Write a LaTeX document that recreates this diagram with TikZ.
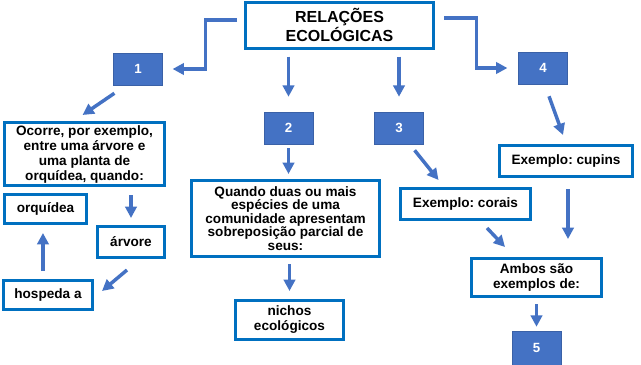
\documentclass[tikz,border=0pt]{standalone}
\usepackage{fontspec}
\setmainfont{Liberation Sans}
\usetikzlibrary{arrows.meta}
\definecolor{obox}{HTML}{0070C0}
\definecolor{ablue}{HTML}{4472C4}
\frenchspacing
\begin{document}
\frenchspacing
\begin{tikzpicture}[x=0.75pt,y=-0.75pt,
  box/.style={draw=obox,line width=2.25pt,fill=white,align=center,inner sep=0pt,
    font=\bfseries\fontsize{10.2}{11.25}\selectfont},
  num/.style={fill=ablue,draw=ablue!85!black,line width=0.4pt,text=white,inner sep=0pt,
    minimum width=36.5pt,minimum height=24pt,font=\bfseries\fontsize{10}{12}\selectfont},
  arr/.style={draw=ablue,line width=2.6pt,-{Triangle[length=8.5pt,width=8.5pt]}}]
\useasboundingbox (0,0) rectangle (641,364);
\fill[white] (0,0) rectangle (641,364);

\node[box,minimum width=141pt,minimum height=34.5pt,font=\bfseries\fontsize{12}{11.8}\selectfont] (t) at (339.5,25) {RELAÇÕES\\ECOLÓGICAS};

\node[num] (b1) at (138,69) {1};
\node[num] (b2) at (288.5,128) {2};
\node[num] (b3) at (399,128) {3};
\node[num] (b4) at (543,68) {4};
\node[num,minimum height=25.5pt] (b5) at (536.5,348) {5};

\node[box,minimum width=120pt,minimum height=47.25pt] (oc) at (84.5,154)
  {Ocorre, por exemplo,\\entre uma árvore e\\uma planta de\\orquídea, quando:};
\node[box,minimum width=61.5pt,minimum height=21.75pt] (orq) at (45.5,209) {orquídea};
\node[box,minimum width=50.25pt,minimum height=23.25pt] (arv) at (131,242) {árvore};
\node[box,minimum width=66.75pt,minimum height=21.75pt] (hos) at (48,295) {hospeda a};
\node[box,minimum width=141pt,minimum height=57pt,font=\bfseries\fontsize{10.2}{10.2}\selectfont] (qd) at (285.5,218.5)
  {Quando duas ou mais\\espécies de uma\\comunidade apresentam\\sobreposição parcial de\\seus:};
\node[box,minimum width=81pt,minimum height=29.25pt] (ni) at (289.5,320) {nichos\\ecológicos};
\node[box,minimum width=97.5pt,minimum height=23.25pt] (cor) at (465.5,204) {Exemplo: corais};
\node[box,minimum width=99.75pt,minimum height=23.25pt] (cup) at (566,161) {Exemplo: cupins};
\node[box,minimum width=97.5pt,minimum height=28.5pt] (amb) at (536.5,277.5) {Ambos são\\exemplos de:};

% connectors
\draw[arr] ([shift={(-7,-5)}]t.west) -| ([shift={(43,0)}]b1.east) -- ([shift={(10,0)}]b1.east);
\draw[arr,shorten <=5.25pt,shorten >=11.25pt] (t.south -| b2.north) -- (b2.north);
\draw[arr,shorten <=5.25pt,shorten >=11.25pt] (t.south -| b3.north) -- (b3.north);
\draw[arr] ([shift={(9,-7)}]t.east) -| ([shift={(-42,0)}]b4.west) -- ([shift={(-11,0)}]b4.west);
\draw[arr] ([shift={(1,8)}]b1.south west) -- ([shift={(-2,-6)}]oc.north);
\draw[arr,shorten <=3pt,shorten >=3.75pt] (b2.south) -- (b2.south |- qd.north);
\draw[arr] ([shift={(-9,6)}]b3.south east) -- ([shift={(-27,-7)}]cor.north);
\draw[arr] ([shift={(6,12)}]b4.south) -- ([shift={(-3,-9)}]cup.north);
\draw[arr,shorten <=6pt,shorten >=5.25pt] (oc.south -| arv.north) -- (arv.north);
\draw[arr] ([shift={(-4,11)}]arv.south) -- ([shift={(8,-4)}]hos.east);
\draw[arr,shorten <=6pt,shorten >=6pt] ([xshift=-1.9pt]orq.south |- hos.north) -- ([xshift=-1.9pt]orq.south);
\draw[arr,shorten <=4.5pt,shorten >=6pt] (qd.south -| ni.north) -- (ni.north);
\draw[arr] ([shift={(21.5,7)}]cor.south) -- ([shift={(-31.5,-10)}]amb.north);
\draw[arr,shorten <=8.25pt,shorten >=13.5pt] ([xshift=1.5pt]cup.south) -- ([xshift=1.5pt]cup.south |- amb.north);
\draw[arr,shorten <=4.5pt,shorten >=3pt] (amb.south) -- (b5.north);
\end{tikzpicture}
\end{document}
